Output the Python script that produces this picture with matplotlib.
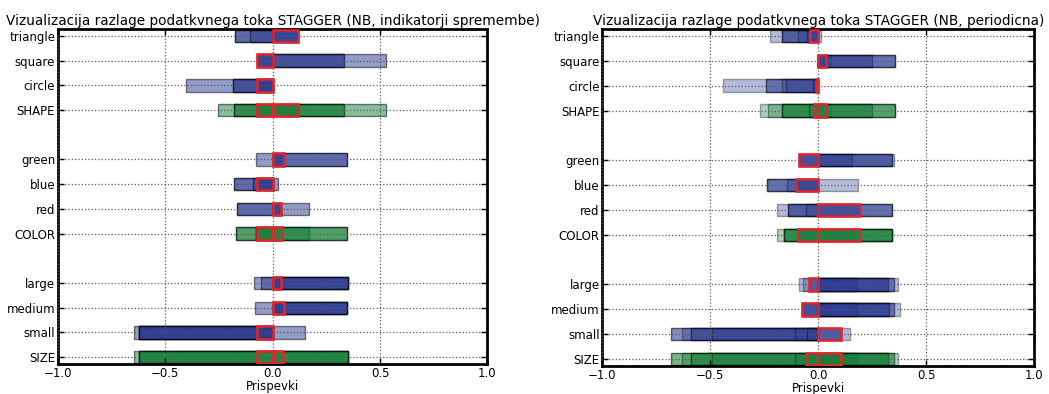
import matplotlib
matplotlib.use('Agg')
import matplotlib.pyplot as plt

#++++++++++++++++++++++++++++++++++++++++++++++
# Attribute values and attribute groups (top to bottom)
#++++++++++++++++++++++++++++++++++++++++++++++
labels = ['triangle', 'square', 'circle', 'SHAPE',
          'green', 'blue', 'red', 'COLOR',
          'large', 'medium', 'small', 'SIZE']
row_pos = [13, 12, 11, 10, 8, 7, 6, 5, 3, 2, 1, 0]
groups = ['SHAPE', 'COLOR', 'SIZE']

#++++++++++++++++++++++++++++++++++++++++++++++
# NB, indikatorji spremembe: contributions over the stream (repeats = same value seen again)
#++++++++++++++++++++++++++++++++++++++++++++++
ind_contrib = [
    [-0.175, -0.175, -0.104, 0.118, 0.118, 0.118, 0.118],
    [-0.073, -0.073, -0.073, -0.073, 0.332, 0.332, 0.528],
    [-0.404, -0.183, -0.183, -0.073, -0.073],
    [-0.255, -0.18, -0.18, -0.073, -0.073, 0.118, 0.118, 0.332, 0.332, 0.528],
    [-0.078, 0.053, 0.053, 0.346, 0.346],
    [-0.179, -0.179, -0.093, -0.073, -0.073, 0.025],
    [-0.165, -0.165, 0.039, 0.039, 0.039, 0.171],
    [-0.171, -0.171, -0.078, -0.078, -0.078, 0.045, 0.171, 0.346, 0.346],
    [-0.087, -0.056, 0.04, 0.352, 0.352, 0.352, 0.352],
    [-0.084, 0.053, 0.345, 0.345, 0.345, 0.345],
    [-0.646, -0.623, -0.623, -0.623, -0.623, -0.073, 0.149],
    [-0.646, -0.623, -0.623, -0.623, 0.349, 0.349, 0.349, 0.349],
]
ind_current = [[0.118], [-0.073], [-0.073], [-0.073, 0.118],
               [0.053], [-0.073], [0.039], [-0.073, 0.045],
               [0.04], [0.053], [-0.073], [-0.073, 0.047]]

#++++++++++++++++++++++++++++++++++++++++++++++
# NB, periodicna
#++++++++++++++++++++++++++++++++++++++++++++++
per_contrib = [
    [-0.224, -0.17, -0.17, -0.17, -0.096, -0.054, -0.037, 0.012],
    [-0.005, 0.034, 0.057, 0.247, 0.247, 0.355, 0.355, 0.355],
    [-0.443, -0.242, -0.242, -0.17, -0.151, -0.023, -0.009],
    [-0.27, -0.231, -0.17, -0.17, -0.17, -0.043, -0.022, 0.034, 0.057, 0.247, 0.247, 0.355, 0.355, 0.355],
    [-0.09, -0.09, -0.09, -0.09, -0.09, 0.157, 0.157, 0.343, 0.343, 0.343, 0.352],
    [-0.239, -0.239, -0.239, -0.147, -0.102, -0.102, 0.185],
    [-0.19, -0.139, -0.139, -0.139, -0.059, 0.193, 0.193, 0.34, 0.34, 0.34],
    [-0.192, -0.157, -0.157, -0.157, -0.157, -0.096, -0.096, 0.193, 0.193, 0.34, 0.34, 0.34, 0.34, 0.343],
    [-0.09, -0.069, -0.043, -0.043, 0.177, 0.177, 0.324, 0.324, 0.324, 0.352, 0.352, 0.37],
    [-0.077, -0.074, -0.074, -0.074, -0.074, 0.177, 0.177, 0.327, 0.327, 0.327, 0.352, 0.352, 0.378],
    [-0.684, -0.684, -0.633, -0.591, -0.591, -0.494, -0.108, -0.054, 0.105, 0.105, 0.105, 0.147],
    [-0.684, -0.684, -0.633, -0.591, -0.591, -0.494, -0.108, -0.059, 0.105, 0.131, 0.17, 0.177,
     0.324, 0.324, 0.324, 0.352, 0.352, 0.37],
]
per_current = [[-0.037], [0.034], [-0.009], [-0.022, 0.034],
               [-0.09], [-0.102], [0.193], [-0.096, 0.193],
               [-0.043], [-0.074], [0.105], [-0.059, 0.105]]

title_ind = 'Vizualizacija razlage podatkvnega toka STAGGER (NB, indikatorji spremembe)'
title_per = 'Vizualizacija razlage podatkvnega toka STAGGER (NB, periodicna)'

col_value = '#2a3a93'
col_group = '#138036'
col_current = '#e8242b'


def draw_panel(ax, contrib, current, title, alpha):
    for lab, y, vals, cur in zip(labels, row_pos, contrib, current):
        c = col_group if lab in groups else col_value
        ax.barh([y] * len(vals), vals, height=0.5, left=0, color=c, alpha=alpha,
                edgecolor='k', linewidth=1.0, zorder=1)
        ax.barh([y] * len(cur), cur, height=0.5, left=0, fill=False,
                edgecolor=col_current, linewidth=1.8, zorder=3)

    ax.set_xlim(-1.0, 1.0)
    ax.set_ylim(-0.28, 13.28)
    ax.set_xticks([-1.0, -0.5, 0.0, 0.5, 1.0])
    ax.set_yticks(row_pos)
    ax.set_yticklabels(labels)
    ax.set_axisbelow(False)
    ax.grid(True, color='0.35', linestyle=':', linewidth=0.9)
    ax.tick_params(direction='in', top=True, right=True, length=4, width=1, labelsize=8.5)
    ax.tick_params(axis='y', pad=2)
    ax.tick_params(axis='x', pad=2)
    for s in ax.spines.values():
        s.set_linewidth(2)
    ax.set_xlabel('Prispevki', fontsize=8.5, labelpad=0)
    ax.set_title(title, fontsize=9.8, pad=3)


fig = plt.figure(figsize=(10.49, 3.94), dpi=100)
ax1 = fig.add_axes([0.0553, 0.0761, 0.4094, 0.8503])
ax2 = fig.add_axes([0.5742, 0.0711, 0.4118, 0.8553])

draw_panel(ax1, ind_contrib, ind_current, title_ind, 0.5)
draw_panel(ax2, per_contrib, per_current, title_per, 0.35)

fig.savefig('out.png', dpi=100)
